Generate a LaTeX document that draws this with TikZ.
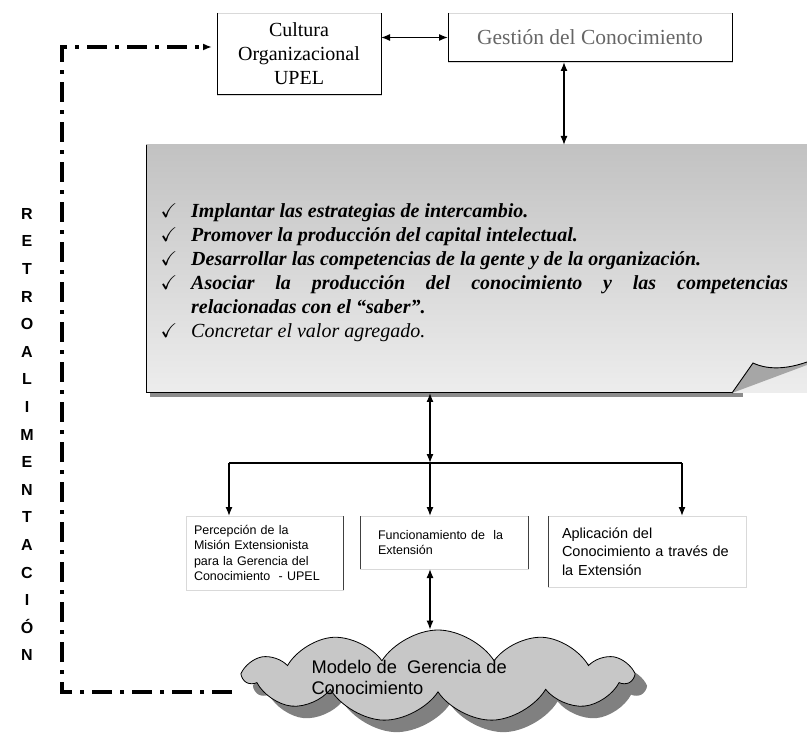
\documentclass[tikz,border=0pt]{standalone}
\usepackage{fontspec}
\setmainfont{Liberation Serif}
\setsansfont{Liberation Sans}
\usepackage{amssymb}
\usetikzlibrary{positioning, shapes.symbols, arrows.meta, calc}
\setlength{\parindent}{0pt}
\newcommand{\chk}{\leavevmode\llap{$\checkmark$\hspace{14pt}}}

\begin{document}
\begin{tikzpicture}[x=1pt, y=-1pt,
      >={Latex[length=9pt,width=7pt]},
      link/.style={line width=1.3pt},
      faint/.style={draw=black!15, line width=0.6pt, inner sep=0pt, outer sep=0pt},
      rim/.style={line width=1pt, black!75},
      panel/.style={top color=black!24, bottom color=black!7, inner sep=0pt, outer sep=0pt},
      feedback/.style={line width=3.5pt, dash pattern=on 20pt off 8pt on 4pt off 8pt},
      puff/.style={cloud, cloud puffs=11, cloud puff arc=115, cloud ignores aspect,
                   minimum width=387pt, minimum height=92pt, inner sep=0pt},
      sbox/.style={faint, anchor=north west, align=left, inner xsep=8pt,
                   font=\sffamily\fontsize{12.5}{15.4}\selectfont}
   ]
   \useasboundingbox (0,0) rectangle (807,738);

   % Top boxes
   \node[faint, minimum width=164pt, minimum height=82pt, align=center,
         font=\fontsize{20}{24}\selectfont] (cult) at (299,54) {Cultura\\Organizacional\\UPEL};
   \node[faint, minimum width=284pt, minimum height=49pt, text=black!60,
         font=\fontsize{21.5}{25}\selectfont] (gest) at (590,37.5) {Gestión del Conocimiento};
   \draw[line width=1pt] (cult.north west) |- (cult.south east) -- (cult.north east);
   \draw[line width=1pt] (gest.north west) |- (gest.south east) -- (gest.north east);

   % Gray panel with folded corner
   \node[panel, anchor=north west, minimum width=661pt, minimum height=248pt] (panel) at (146,145) {};
   \fill[black!45] (150,393) rectangle (743,397);
   \draw[line width=1pt] (panel.north west) -- (panel.south west) -- (732,393);
   \fill[black!35] (732,393) -- (753,363) .. controls (770,371) and (790,368) .. (807,362) -- (807,365) -- cycle;
   \draw[line width=0.9pt] (732,393) -- (753,363) .. controls (770,371) and (790,368) .. (807,362);

   \node[anchor=north west, inner sep=0pt, text width=597pt, align=justify,
         font=\fontsize{20}{24}\selectfont\bfseries\itshape] (goals) at (191,203) {
      \chk Implantar las estrategias de intercambio.\par
      \chk Promover la producción del capital intelectual.\par
      \chk Desarrollar las competencias de la gente y de la organización.\par
      \chk Asociar la producción del conocimiento y las competencias\linebreak
      relacionadas con el “saber”.\par
      \chk{\mdseries Concretar el valor agregado.}\par
   };

   % Bottom boxes
   \node[sbox, text width=141pt, minimum height=74pt] (perc) at (186,516)
      {Percepción de la\\Misión Extensionista\\para la Gerencia del\\Conocimiento \ - UPEL};
   \node[sbox, inner xsep=18pt, text width=132pt, minimum height=53pt] (func) at (360,516)
      {Funcionamiento de \ la\\Extensión};
   \node[sbox, inner xsep=14pt, text width=170pt, minimum height=71pt,
         font=\sffamily\fontsize{14.5}{18.5}\selectfont] (apli) at (548,516)
      {Aplicación del\\Conocimiento a través de\\la Extensión};
   \draw[rim] (perc.north east) -- (perc.south east);
   \draw[rim] (func.north west) -- (func.south west) (func.north east) -- (func.south east);
   \draw[rim] (apli.north west) -- (apli.south west);

   % Cloud
   \node[puff, fill=black!50] (modelosh) at (450,688) {};
   \node[puff, fill=black!22, draw=black, line width=0.8pt] (modelo) at (438,676) {};
   \node[font=\sffamily\fontsize{18.3}{21}\selectfont, align=left, anchor=west]
      (modelotxt) at (308,677) {Modelo de \ Gerencia de\\Conocimiento};

   % Arrows
   \coordinate (hub) at (430,463);
   \coordinate (lft) at (229,463);
   \coordinate (rgt) at (682,463);
   \draw[link, <->] (cult.east |- gest.west) -- (gest.west);
   \draw[link, <->] ([xshift=-26pt]gest.south) -- ([xshift=-26pt]gest.south |- panel.north);
   \draw[link, <->] (hub |- panel.south) -- (hub);
   \draw[link] (lft) -- (rgt);
   \draw[link, ->] (lft) -- (lft |- perc.north);
   \draw[link, ->] (hub) -- (hub |- func.north);
   \draw[link, ->] (rgt) -- (rgt |- apli.north);
   \draw[link, <->] (hub |- func.south) -- (modelo.north -| hub);

   % Feedback loop
   \coordinate (fb) at (232,692);
   \draw[feedback, ->, shorten >=5pt] (fb) -- (62,692) |- ([yshift=7pt]cult.west);
   \node[font=\sffamily\bfseries\fontsize{16}{27.6}\selectfont, align=center] (retro) at (27,434.5)
      {R\\E\\T\\R\\O\\A\\L\\I\\M\\E\\N\\T\\A\\C\\I\\Ó\\N};

\end{tikzpicture}
\end{document}
